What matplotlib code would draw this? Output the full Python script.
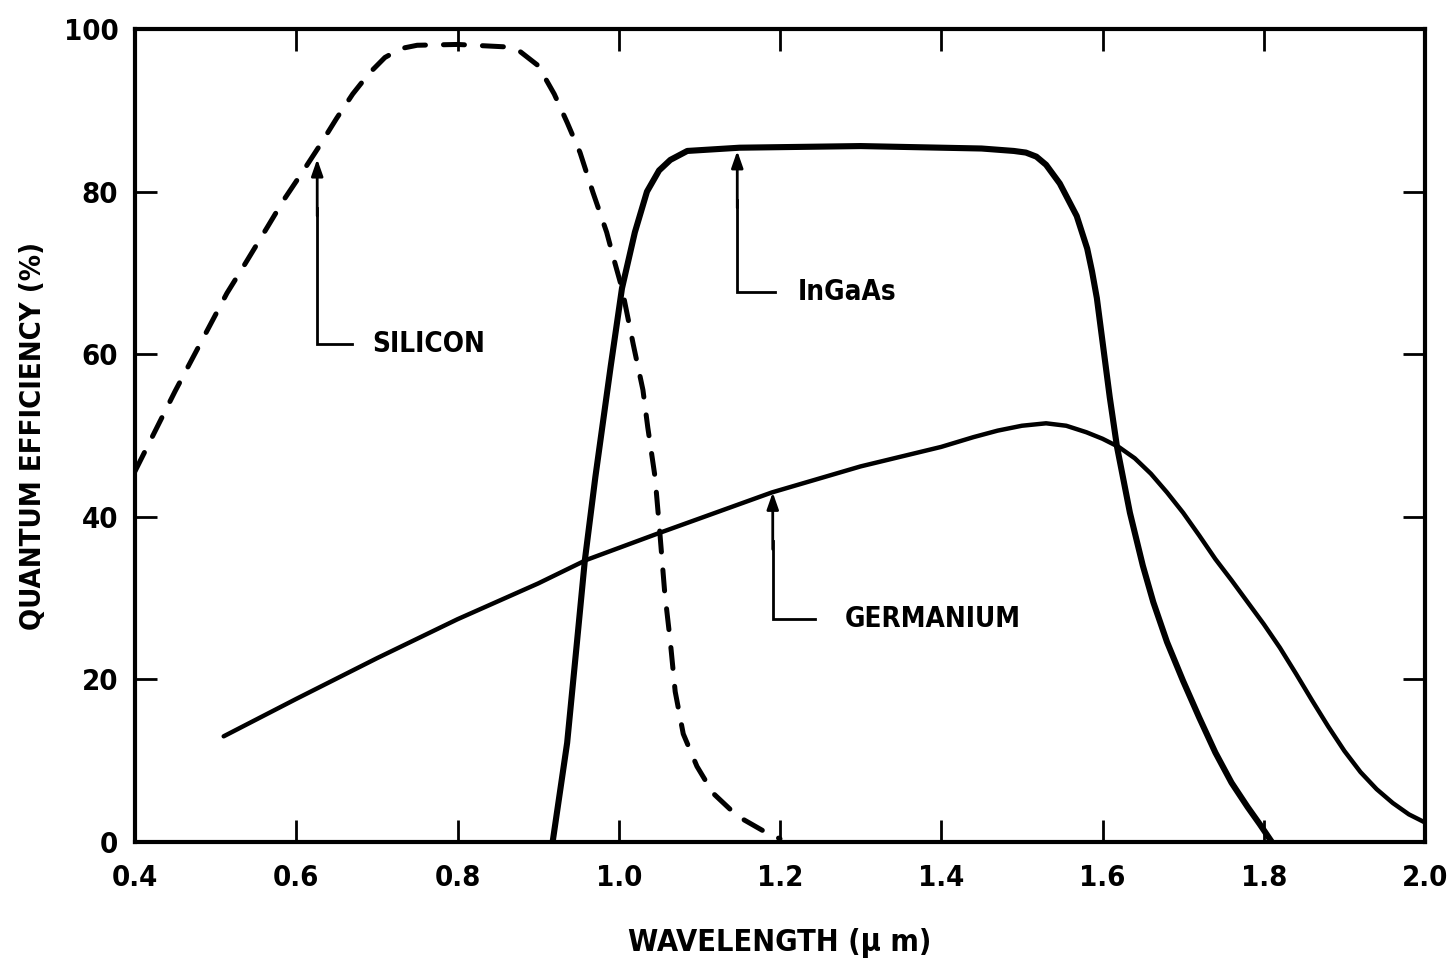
import matplotlib
matplotlib.use("Agg")
import matplotlib.pyplot as plt

# ---------------------------------------------------------------------------
# Curve data (wavelength in um, QE in %)
# ---------------------------------------------------------------------------

si_wl = [0.40, 0.45, 0.514, 0.534, 0.564, 0.584, 0.609, 0.63, 0.65, 0.67,
         0.69, 0.71, 0.73, 0.75, 0.80, 0.86, 0.878, 0.90, 0.92, 0.936,
         0.952, 0.968, 0.985, 0.995, 1.004, 1.018, 1.030, 1.036, 1.045, 1.051,
         1.057, 1.064, 1.070, 1.080, 1.097, 1.117, 1.147, 1.184, 1.20]
si_qe = [45.6, 55.5, 67.5, 70.7, 75.6, 78.9, 82.6, 85.8, 89.0, 92.0,
         94.5, 96.5, 97.6, 98.0, 98.1, 97.8, 97.2, 95.5, 92.0, 88.5,
         84.8, 79.9, 75.0, 71.3, 68.1, 61.2, 55.6, 51.0, 44.9, 38.0,
         30.7, 24.6, 18.5, 13.3, 9.3, 6.0, 3.2, 1.1, 0.4]

ingaas_wl = [0.918, 0.936, 0.948, 0.958, 0.971, 0.99, 1.004, 1.02, 1.035,
             1.05, 1.064, 1.085, 1.15, 1.30, 1.45, 1.49, 1.505, 1.518, 1.53,
             1.547, 1.568, 1.581, 1.587, 1.593, 1.601, 1.609, 1.618, 1.634,
             1.65, 1.663, 1.68, 1.70, 1.72, 1.74, 1.76, 1.78, 1.795, 1.81]
ingaas_qe = [0.0, 12.2, 24.4, 34.7, 44.9, 58.5, 68.1, 75.0, 80.0,
             82.6, 83.9, 85.0, 85.4, 85.6, 85.3, 85.0, 84.8, 84.3, 83.3,
             81.0, 77.0, 73.0, 70.2, 66.9, 60.8, 54.7, 48.6, 40.5,
             34.0, 29.5, 24.6, 19.8, 15.3, 11.0, 7.3, 4.3, 2.2, 0.0]

ge_wl = [0.51, 0.60, 0.70, 0.80, 0.90, 0.96, 1.05, 1.19, 1.30, 1.40,
         1.44, 1.47, 1.50, 1.53, 1.555, 1.58, 1.60, 1.62, 1.64, 1.66,
         1.68, 1.70, 1.72, 1.74, 1.76, 1.78, 1.80, 1.82, 1.84, 1.86,
         1.88, 1.90, 1.92, 1.94, 1.96, 1.98, 2.00]
ge_qe = [13.0, 17.6, 22.6, 27.4, 31.8, 34.7, 38.0, 43.0, 46.2, 48.6,
         49.8, 50.6, 51.2, 51.5, 51.2, 50.4, 49.6, 48.6, 47.2, 45.3,
         43.0, 40.5, 37.7, 34.8, 32.2, 29.5, 26.8, 23.9, 20.7, 17.4,
         14.2, 11.2, 8.6, 6.5, 4.8, 3.4, 2.4]

x_ticks = [0.4, 0.6, 0.8, 1.0, 1.2, 1.4, 1.6, 1.8, 2.0]
x_labels = ["0.4", "0.6", "0.8", "1.0", "1.2", "1.4", "1.6", "1.8", "2.0"]
y_ticks = [0, 20, 40, 60, 80, 100]
y_labels = ["0", "20", "40", "60", "80", "100"]

# label callouts: (text, arrow x, tip y, elbow y, elbow end x, text x)
labels = [
    ("SILICON",   0.626, 84.0, 61.3, 0.669, 0.694),
    ("InGaAs",    1.147, 85.0, 67.6, 1.194, 1.222),
    ("GERMANIUM", 1.191, 43.0, 27.4, 1.243, 1.280),
]

# ---------------------------------------------------------------------------
# Plot
# ---------------------------------------------------------------------------

FONT = dict(family="DejaVu Sans", weight="bold", stretch="condensed")

fig = plt.figure(figsize=(14.51, 9.69), dpi=100)
ax = fig.add_axes([135 / 1451, 127 / 969, 1290 / 1451, 813 / 969])

ax.plot(si_wl, si_qe, color="black", lw=3.6, dashes=(4.2, 3.6),
        dash_capstyle="round", solid_joinstyle="round")
ax.plot(ingaas_wl, ingaas_qe, color="black", lw=4.4,
        solid_capstyle="round", solid_joinstyle="round")
ax.plot(ge_wl, ge_qe, color="black", lw=3.2,
        solid_capstyle="round", solid_joinstyle="round")

for text, ax_x, tip_y, elbow_y, end_x, text_x in labels:
    ax.plot([ax_x, ax_x, end_x], [tip_y - 6, elbow_y, elbow_y],
            color="black", lw=2.0, solid_joinstyle="miter")
    ax.annotate("", xy=(ax_x, tip_y), xytext=(ax_x, tip_y - 7),
                arrowprops=dict(arrowstyle="-|>,head_length=1.0,head_width=0.35",
                                color="black", lw=2.0, shrinkA=0, shrinkB=0))
    ax.text(text_x, elbow_y, text, fontsize=20, ha="left", va="center", **FONT)

ax.set_xlim(0.4, 2.0)
ax.set_ylim(0, 100)
ax.set_xticks(x_ticks)
ax.set_xticklabels(x_labels)
ax.set_yticks(y_ticks)
ax.set_yticklabels(y_labels)

ax.tick_params(direction="in", length=16, width=2.0, top=True, right=True,
               labelsize=21)
ax.tick_params(axis="x", pad=16)
ax.tick_params(axis="y", pad=12)
for lab in ax.get_xticklabels() + ax.get_yticklabels():
    lab.set_family(FONT["family"])
    lab.set_weight(FONT["weight"])
    lab.set_stretch(FONT["stretch"])

for spine in ax.spines.values():
    spine.set_linewidth(3.0)

ax.set_xlabel("WAVELENGTH (\u03bc m)", fontsize=22, **FONT)
ax.set_ylabel("QUANTUM EFFICIENCY (%)", fontsize=21, **FONT)
ax.xaxis.set_label_coords(0.5, -0.106)
ax.yaxis.set_label_coords(-0.068, 0.5)

fig.savefig("out.png", dpi=100)
